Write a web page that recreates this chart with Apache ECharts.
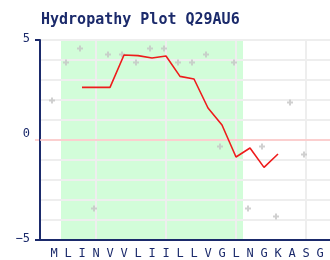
<!DOCTYPE html>
<html><head><meta charset="utf-8">
<script src="https://cdn.jsdelivr.net/npm/echarts@6/dist/echarts.min.js"></script>
<style>html,body{margin:0;padding:0;background:#fff}#c{width:330px;height:260px}</style>
</head><body><div id="c"></div>
<script>
const residues = ['M','L','I','N','V','V','L','I','I','L','L','V','G','L','N','G','K','A','S','G'];
const rawValues = [1.9,3.8,4.5,-3.5,4.2,4.2,3.8,4.5,4.5,3.8,3.8,4.2,-0.4,3.8,-3.5,-0.4,-3.9,1.8,-0.8];
const avgStart = 3;
const avgValues = [2.63,2.63,2.63,4.25,4.22,4.1,4.2,3.18,3.05,1.6,0.75,-0.85,-0.4,-1.37,-0.7];
const yTickLabels = [-5,0,5];
const regionStart = 1.5, regionEnd = 14.5;
const gridPositions = [4,9,14,19];

const navy = '#1b2a6b';
const font = 'DejaVu Sans Mono';
const chart = echarts.init(document.getElementById('c'), null, {renderer:'canvas'});
const rawData = rawValues.map((v,i)=>[i+1,v]);
const avgData = avgValues.map((v,i)=>[i+avgStart,v]);
chart.setOption({
  animation:false,
  title:{text:'Hydropathy Plot Q29AU6',left:36,top:8,textStyle:{fontFamily:font,fontWeight:'bold',fontSize:15,color:navy}},
  grid:{left:40,top:40,right:0,bottom:20,containLabel:false},
  xAxis:{type:'value',min:0,max:290/14,z:1,
    axisLine:{show:true,onZero:false,lineStyle:{color:navy,width:2}},
    axisTick:{show:false,customValues:gridPositions},
    splitLine:{show:true,lineStyle:{color:'#eeeeee',width:2}},
    axisLabel:{customValues:residues.map((r,i)=>i+1),formatter:v=>residues[Math.round(v)-1]||'',
      fontFamily:font,fontSize:12,color:navy,margin:8}},
  yAxis:[{type:'value',min:-5,max:5,z:2,
    axisLine:{show:true,onZero:false,lineStyle:{color:navy,width:2}},
    axisTick:{show:true,customValues:[-5,5],length:5,lineStyle:{color:navy,width:2}},
    splitLine:{show:false},
    axisLabel:{customValues:yTickLabels,formatter:v=>v===0?'{z|0}':'{n|'+String(v).replace('-','\u2212')+'}',
      fontFamily:font,fontSize:12,color:navy,margin:10,
      rich:{z:{fontFamily:font,fontSize:12,color:navy,padding:[0,0,12,0]},
            n:{fontFamily:font,fontSize:12,color:navy,padding:[0,0,2,0]}}}},
   {type:'value',min:-5,max:5,position:'left',z:1,axisLine:{show:false},splitLine:{show:false},
    axisTick:{show:true,customValues:[0],length:5,lineStyle:{color:'#ffc4c4',width:1.5}},
    axisLabel:{show:false}},
   {type:'value',min:-5,max:5,interval:1,position:'left',z:1,axisLine:{show:false},
    axisTick:{show:false},axisLabel:{show:false},
    splitLine:{show:true,lineStyle:{color:'#eeeeee',width:2}}}],
  series:[
    {type:'line',data:[],z:0,silent:true,
      markArea:{silent:true,z:0,itemStyle:{color:'#d2fdd9'},data:[[{xAxis:regionStart},{xAxis:regionEnd}]]}},
    {type:'line',data:[],z:3,silent:true,
      markLine:{silent:true,symbol:'none',label:{show:false},lineStyle:{color:'#ffc4c4',width:1.5,type:'solid'},data:[{yAxis:0}]}},
    {type:'scatter',data:rawData,symbol:'path://M1,0H2V1H3V2H2V3H1V2H0V1H1Z',symbolSize:6,symbolOffset:[-2,-1.5],
      itemStyle:{color:'#c4c4c4'},z:4},
    {type:'line',data:avgData,symbol:'none',z:5,lineStyle:{color:'#ee1c1c',width:1.6}}
  ]
});
</script></body></html>
